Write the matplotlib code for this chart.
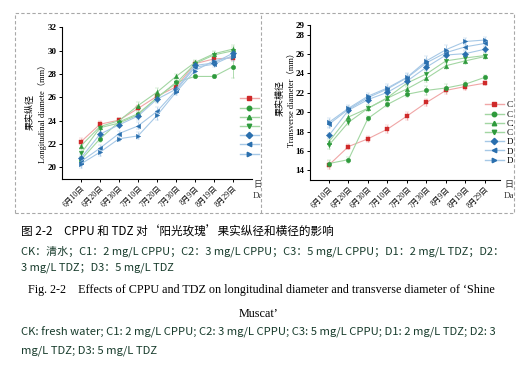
# Fruit diameter figure (CPPU / TDZ on 'Shine Muscat').
import matplotlib
matplotlib.use('Agg')
import matplotlib.pyplot as plt
from matplotlib.lines import Line2D
from matplotlib.patches import Rectangle
from matplotlib.transforms import Bbox, TransformedBbox

W, H = 530, 374

dates = ['6月10日', '6月20日', '6月30日', '7月10日', '7月20日',
         '7月30日', '8月9日', '8月19日', '8月29日']
names = ['CK', 'C1', 'C2', 'C3', 'D1', 'D2', 'D3']

# longitudinal diameter (mm)
long_ck = [22.2, 23.7, 24.05, 25.05, 26.1, 26.9, 28.9, 29.3, 29.4]
long_c1 = [20.65, 22.45, 23.9, 24.6, 25.95, 27.3, 27.8, 27.8, 28.65]
long_c2 = [21.85, 23.5, 24.0, 25.3, 26.45, 27.8, 29.0, 29.75, 30.15]
long_c3 = [21.2, 23.4, 23.8, 24.5, 26.0, 27.2, 28.9, 29.65, 30.0]
long_d1 = [20.8, 22.85, 23.65, 24.4, 25.85, 26.7, 28.75, 28.95, 29.8]
long_d2 = [20.5, 21.65, 22.9, 23.55, 24.8, 26.6, 28.6, 28.85, 29.6]
long_d3 = [20.3, 21.3, 22.45, 22.7, 24.45, 26.45, 28.3, 29.15, 29.45]

long_err_ck = [0.3, 0.25, 0.15, 0.3, 0.3, 0.25, 0.2, 0.2, 0.25]
long_err_c1 = [0.3, 0.3, 0.2, 0.3, 0.3, 0.25, 0.1, 0.1, 1.0]
long_err_c2 = [0.3, 0.3, 0.2, 0.3, 0.4, 0.2, 0.2, 0.25, 0.35]
long_err_c3 = [0.3, 0.3, 0.2, 0.3, 0.3, 0.25, 0.2, 0.25, 0.3]
long_err_d1 = [0.35, 0.3, 0.2, 0.3, 0.3, 0.2, 0.2, 0.2, 0.3]
long_err_d2 = [0.35, 0.3, 0.2, 0.3, 0.35, 0.2, 0.2, 0.2, 0.3]
long_err_d3 = [0.35, 0.3, 0.2, 0.3, 0.35, 0.2, 0.2, 0.2, 0.3]

# transverse diameter (mm)
trans_ck = [14.55, 16.45, 17.25, 18.25, 19.6, 21.0, 22.25, 22.65, 23.0]
trans_c1 = [14.7, 15.1, 19.35, 20.8, 21.85, 22.25, 22.5, 22.9, 23.6]
trans_c2 = [16.95, 19.5, 20.4, 21.45, 22.4, 23.5, 24.8, 25.3, 25.75]
trans_c3 = [16.6, 18.95, 20.4, 21.5, 23.0, 23.95, 25.3, 25.6, 25.85]
trans_d1 = [17.6, 20.2, 21.3, 22.05, 23.2, 24.65, 25.9, 26.05, 26.5]
trans_d2 = [18.75, 20.3, 21.5, 22.4, 23.55, 25.1, 26.15, 26.75, 27.1]
trans_d3 = [18.95, 20.4, 21.65, 22.5, 23.6, 25.3, 26.45, 27.3, 27.45]

trans_err_ck = [0.4, 0.3, 0.3, 0.4, 0.4, 0.4, 0.4, 0.35, 0.2]
trans_err_c1 = [0.4, 0.3, 0.3, 0.3, 0.3, 0.5, 0.4, 0.3, 0.2]
trans_err_c2 = [0.3, 0.3, 0.3, 0.3, 0.35, 0.4, 0.35, 0.3, 0.25]
trans_err_c3 = [0.4, 0.3, 0.3, 0.3, 0.35, 0.4, 0.35, 0.3, 0.25]
trans_err_d1 = [0.3, 0.3, 0.3, 0.3, 0.35, 0.4, 0.3, 0.3, 0.25]
trans_err_d2 = [0.4, 0.3, 0.3, 0.3, 0.35, 0.4, 0.3, 0.3, 0.25]
trans_err_d3 = [0.5, 0.35, 0.35, 0.4, 0.4, 0.5, 0.5, 0.4, 0.3]

long_vals = [long_ck, long_c1, long_c2, long_c3, long_d1, long_d2, long_d3]
long_errs = [long_err_ck, long_err_c1, long_err_c2, long_err_c3,
             long_err_d1, long_err_d2, long_err_d3]
trans_vals = [trans_ck, trans_c1, trans_c2, trans_c3, trans_d1, trans_d2, trans_d3]
trans_errs = [trans_err_ck, trans_err_c1, trans_err_c2, trans_err_c3,
              trans_err_d1, trans_err_d2, trans_err_d3]

markers = ['s', 'o', '^', 'v', 'D', '<', '>']
mcols = ['#cf2a2a'] + ['#2e9a3c'] * 3 + ['#2a6fae'] * 3
lcols = ['#f0a6a6'] + ['#a2d6a2'] * 3 + ['#a6c8e6'] * 3

SERIF = ['Liberation Serif', 'Noto Sans CJK SC']
CJK = ['Noto Sans CJK SC', 'DejaVu Sans']
plt.rcParams['font.family'] = SERIF


def rect(x0, y0, x1, y1):
    # pixel box (top-left origin) -> figure fraction [l, b, w, h]
    return [x0 / W, 1 - y1 / H, (x1 - x0) / W, (y1 - y0) / H]


def clipbox(fig, x0, y0, x1, y1):
    return TransformedBbox(Bbox.from_extents(x0 / W, 1 - y1 / H, x1 / W, 1 - y0 / H),
                           fig.transFigure)


def panel(fig, pos, vals, errs, ylim, yticks, xlim, cjk, eng, cjk_x, eng_x, lab_y,
          leg_xy, clip, date_x):
    ax = fig.add_axes(rect(*pos))
    x = list(range(len(dates)))
    for v, e, m, mc, lc in zip(vals, errs, markers, mcols, lcols):
        ax.errorbar(x, v, yerr=e, color=lc, lw=0.8, ecolor=lc, elinewidth=0.6,
                    capsize=1.5, capthick=0.6, marker=m, ms=3.2, mfc=mc, mec=mc,
                    mew=0.3, zorder=3)
    ax.set_xlim(*xlim)
    ax.set_ylim(*ylim)
    ax.set_yticks(yticks)
    ax.set_xticks(x)
    ax.set_xticklabels(dates, rotation=45, ha='right', va='top',
                       rotation_mode='anchor', fontsize=5.5, family=SERIF)
    for t in ax.get_yticklabels():
        t.set_fontweight('bold')
        t.set_fontsize(6.5)
    for s in ['top', 'right']:
        ax.spines[s].set_visible(False)
    for s in ['left', 'bottom']:
        ax.spines[s].set_linewidth(0.8)
    ax.tick_params(direction='out', length=2.5, width=0.7, pad=1.5)
    fig.text(cjk_x / W, 1 - lab_y / H, cjk, rotation=90, ha='center', va='center',
             fontsize=6.5, family=CJK)
    fig.text(eng_x / W, 1 - lab_y / H, eng, rotation=90, ha='center', va='center',
             fontsize=6, family=SERIF)
    cb = clipbox(fig, *clip)
    handles = [Line2D([], [], color=lc, lw=1.0, marker=m, ms=3.2, mfc=mc, mec=mc)
               for m, mc, lc in zip(markers, mcols, lcols)]
    leg = ax.legend(handles, names, loc='center left', frameon=False,
                    bbox_to_anchor=(leg_xy[0] / W, 1 - leg_xy[1] / H),
                    bbox_transform=fig.transFigure, fontsize=6.5,
                    handlelength=2.1, handletextpad=0.3, labelspacing=0.1,
                    borderpad=0, borderaxespad=0)
    for a in leg.findobj(lambda o: isinstance(o, (Line2D, plt.Text))):
        a.set_clip_box(cb)
        a.set_clip_on(True)
    for txt, yy, fam in [('日期', 184, CJK), ('Date', 196, SERIF)]:
        t = fig.text(date_x / W, 1 - yy / H, txt, ha='left', va='center',
                     fontsize=6.5, family=fam, color='#333333')
        t.set_clip_box(cb)
        t.set_clip_on(True)
    return ax


fig = plt.figure(figsize=(W / 100, H / 100), dpi=100)

panel(fig, (62, 27.5, 252, 179), long_vals, long_errs, (19, 32), range(20, 33, 2),
      (-1.0, 9.0), '果实纵径', 'Longitudinal diamete（mm）', 30, 42, 112,
      (240, 127), (15, 13, 261, 213), 253)
panel(fig, (310, 25, 500, 180), trans_vals, trans_errs, (13, 29),
      [14, 16, 18, 20, 22, 24, 26, 28, 29], (-0.97, 8.77),
      '果实横径', 'Transverse diameter（mm）', 280, 291, 98,
      (485, 133), (261, 13, 513, 213), 504)

# dashed frame of the two panels
fig.patches.append(Rectangle((15 / W, 1 - 213 / H), (514 - 15) / W, 200 / H,
                             transform=fig.transFigure, fill=False, ec='#a8a8a8',
                             lw=0.8, ls=(0, (3, 2))))
fig.add_artist(Line2D([261 / W, 261 / W], [1 - 213 / H, 1 - 13 / H],
                      transform=fig.transFigure, color='#a8a8a8', lw=0.8,
                      ls=(0, (3, 2))))

# caption
green = '#183c2c'
fig.text(21 / W, 1 - 232 / H, '图 2-2　CPPU 和 TDZ 对‘阳光玫瑰’果实纵径和横径的影响',
         fontsize=8.4, family=CJK, va='center')
fig.text(21 / W, 1 - 251 / H,
         'CK：清水；C1：2 mg/L CPPU；C2：3 mg/L CPPU；C3：5 mg/L CPPU；D1：2 mg/L TDZ；D2：',
         fontsize=7.95, family=CJK, va='center', color=green)
fig.text(21 / W, 1 - 267.5 / H, '3 mg/L TDZ；D3：5 mg/L TDZ',
         fontsize=7.95, family=CJK, va='center', color=green)
fig.text(28 / W, 1 - 290 / H,
         'Fig. 2-2　Effects of CPPU and TDZ on longitudinal diameter and transverse diameter of ‘Shine',
         fontsize=8.7, family=SERIF, va='center')
fig.text(259 / W, 1 - 314 / H, 'Muscat’', fontsize=8.7, family=SERIF,
         va='center', ha='center')
fig.text(21 / W, 1 - 332.5 / H,
         'CK: fresh water; C1: 2 mg/L CPPU; C2: 3 mg/L CPPU; C3: 5 mg/L CPPU; D1: 2 mg/L TDZ; D2: 3',
         fontsize=8.1, family=CJK, va='center', color=green)
fig.text(21 / W, 1 - 351 / H, 'mg/L TDZ; D3: 5 mg/L TDZ',
         fontsize=8.1, family=CJK, va='center', color=green)

fig.savefig('out.png', dpi=100)
